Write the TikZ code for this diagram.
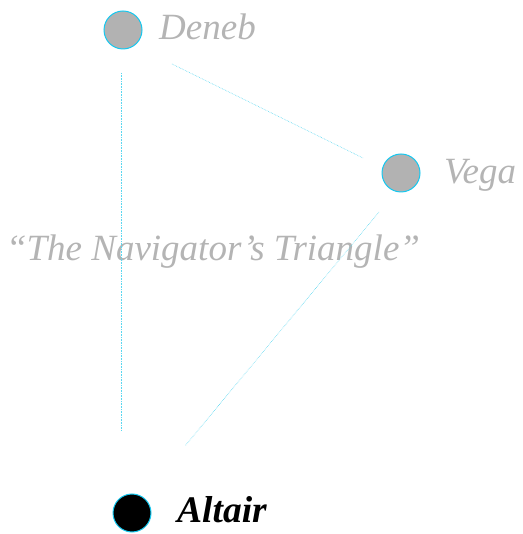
\documentclass[tikz,border=0pt]{standalone}
\usepackage{fontspec}
\setmainfont{Liberation Serif}
\definecolor{starcyan}{RGB}{20,200,240}
\definecolor{linecyan}{RGB}{90,215,240}
\definecolor{stargray}{RGB}{178,178,178}
\definecolor{labelgray}{RGB}{180,180,180}
\begin{document}
\begin{tikzpicture}[x=1pt,y=1pt,
  star/.style={circle,draw=starcyan,line width=1pt,minimum size=38pt,inner sep=0pt},
  graystar/.style={star,fill=stargray},
  blackstar/.style={star,fill=black},
  starname/.style={anchor=base west,inner sep=0pt,font=\fontsize{37}{42}\selectfont\itshape,text=labelgray},
  link/.style={draw=linecyan,line width=0.6pt,densely dotted}]
\useasboundingbox (0,0) rectangle (522,534);
\node[graystar] (deneb) at (123,504) {};
\node[graystar] (vega) at (401,361) {};
\node[blackstar] (altair) at (132,21) {};
\node[starname] (denebl) at (159,494) {Deneb};
\node[starname] (vegal) at (444,350) {Vega};
\node[starname,text=black,font=\fontsize{37.5}{42}\selectfont\bfseries\itshape] (altairl) at (177,12) {Altair};
\node[anchor=base,inner sep=0pt,font=\fontsize{37}{42}\selectfont\itshape,text=labelgray] (title) at (213,273) {“The Navigator’s Triangle”};
\coordinate (dA) at (121,461);
\coordinate (aD) at (121,104);
\coordinate (dV) at (172,470);
\coordinate (vD) at (363,376);
\coordinate (vA) at (379,322);
\coordinate (aV) at (185,88);
\draw[link] (dA) -- (aD);
\draw[link] (dV) -- (vD);
\draw[link] (vA) -- (aV);
\end{tikzpicture}
\end{document}
